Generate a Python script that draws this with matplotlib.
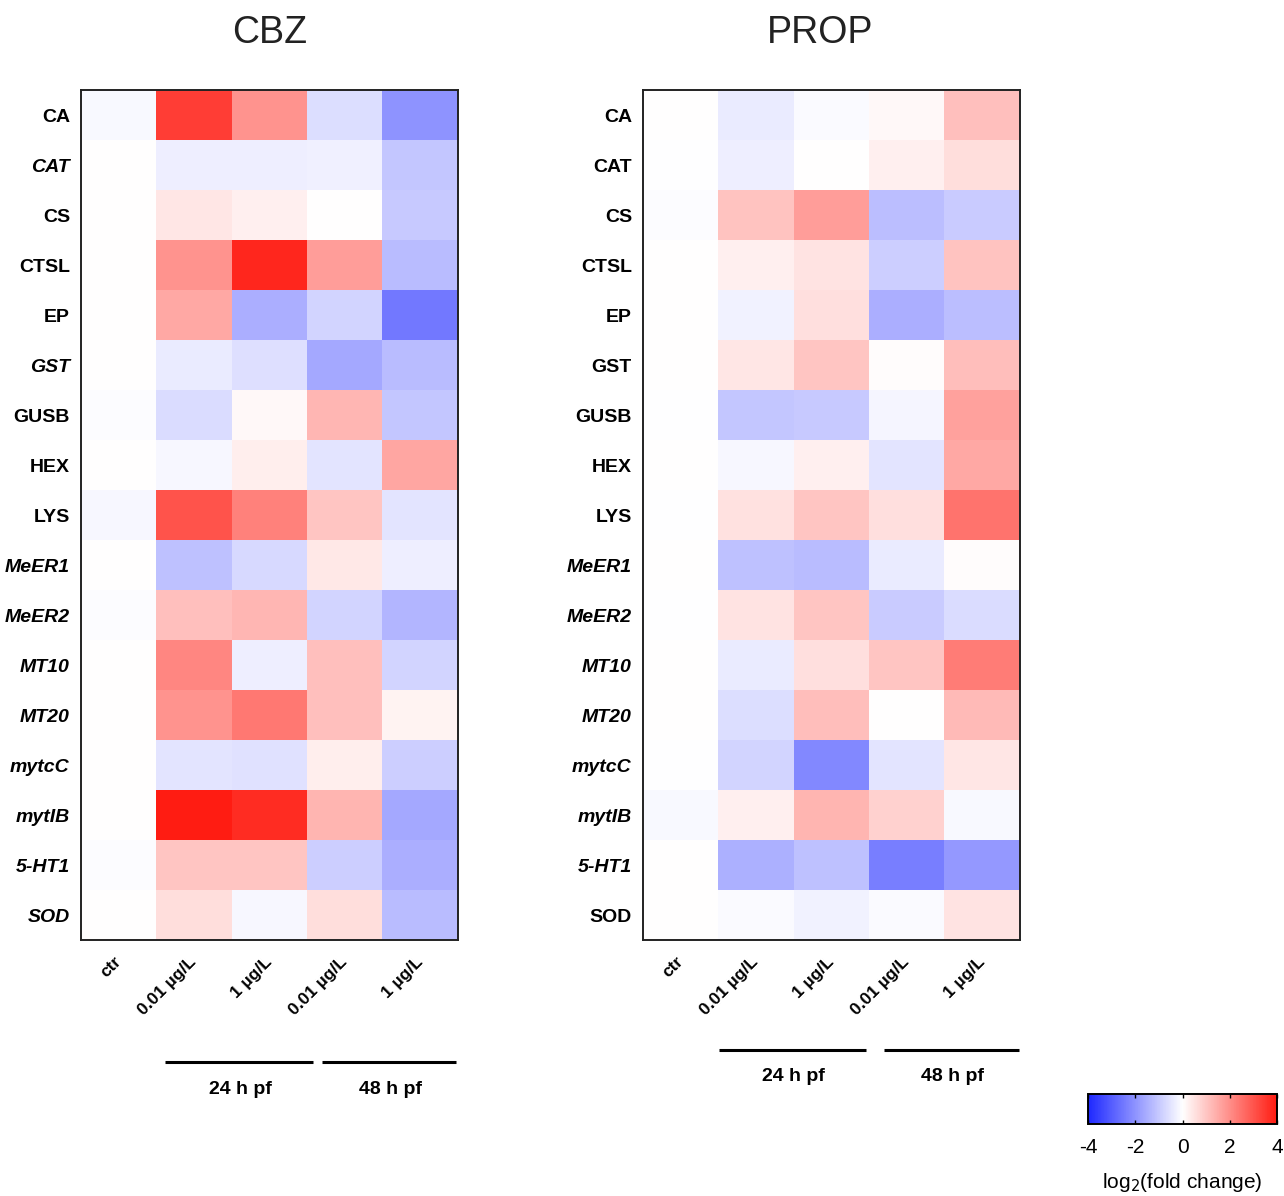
import numpy as np
import matplotlib
matplotlib.use("Agg")
import matplotlib.pyplot as plt
from matplotlib.colors import LinearSegmentedColormap

# data: log2(fold change), rows = genes, cols = ctr, 24h 0.01, 24h 1, 48h 0.01, 48h 1
genes = ["CA", "CAT", "CS", "CTSL", "EP", "GST", "GUSB", "HEX", "LYS",
         "MeER1", "MeER2", "MT10", "MT20", "mytcC", "mytIB", "5-HT1", "SOD"]
conditions = ["ctr", "0.01 µg/L", "1 µg/L", "0.01 µg/L", "1 µg/L"]
groups = ["24 h pf", "48 h pf"]

cbz = [
    [-0.10, 3.40, 1.90, -0.60, -2.00],
    [0.00, -0.30, -0.30, -0.28, -1.05],
    [0.00, 0.42, 0.27, 0.00, -1.00],
    [0.00, 1.90, 3.80, 1.70, -1.25],
    [0.00, 1.50, -1.50, -0.80, -2.50],
    [0.00, -0.35, -0.58, -1.60, -1.25],
    [-0.05, -0.65, 0.10, 1.25, -1.05],
    [0.00, -0.15, 0.30, -0.50, 1.55],
    [-0.15, 3.00, 2.20, 1.00, -0.50],
    [0.00, -1.15, -0.70, 0.40, -0.30],
    [-0.05, 1.10, 1.25, -0.80, -1.35],
    [0.00, 2.10, -0.30, 1.10, -0.80],
    [0.00, 1.90, 2.35, 1.10, 0.20],
    [0.00, -0.50, -0.55, 0.30, -0.90],
    [0.00, 4.00, 3.70, 1.30, -1.60],
    [-0.05, 1.00, 1.00, -0.90, -1.50],
    [0.00, 0.58, -0.15, 0.58, -1.25],
]
prop = [
    [0.00, -0.35, -0.08, 0.10, 1.10],
    [-0.03, -0.30, 0.00, 0.27, 0.58],
    [-0.05, 1.05, 1.70, -1.20, -0.95],
    [0.00, 0.27, 0.47, -0.90, 1.05],
    [0.00, -0.22, 0.55, -1.50, -1.20],
    [0.00, 0.42, 1.00, 0.05, 1.15],
    [-0.03, -1.05, -1.00, -0.18, 1.65],
    [0.00, -0.15, 0.27, -0.50, 1.50],
    [-0.03, 0.52, 1.00, 0.55, 2.45],
    [0.00, -1.15, -1.25, -0.35, 0.05],
    [-0.03, 0.47, 1.00, -0.95, -0.65],
    [0.00, -0.35, 0.55, 1.00, 2.30],
    [0.00, -0.60, 1.15, 0.00, 1.20],
    [-0.03, -0.80, -2.20, -0.50, 0.42],
    [-0.10, 0.27, 1.30, 0.80, -0.10],
    [0.00, -1.45, -1.15, -2.40, -1.90],
    [0.00, -0.08, -0.25, -0.08, 0.47],
]

italic_cbz = {"CAT", "GST", "MeER1", "MeER2", "MT10", "MT20", "mytcC", "mytIB", "5-HT1", "SOD"}
italic_prop = {"MeER1", "MeER2", "MT10", "MT20", "mytcC", "mytIB", "5-HT1"}

plt.rcParams["axes.unicode_minus"] = False
cmap = LinearSegmentedColormap.from_list("bwr2", ["#1e28ff", "#ffffff", "#ff1c12"])
label_font = ["Liberation Sans", "DejaVu Sans"]
title_font = ["Liberation Sans Narrow", "Liberation Sans", "DejaVu Sans"]

fig = plt.figure(figsize=(12.84, 11.96), dpi=100)

# title, values, italic labels, left, bracket y, text y, spans, text x, title x (axes frac)
panels = [
    ("CBZ", cbz, italic_cbz, 0.0631, -0.1435, -0.176, (0.62, 2.58), (2.7, 4.48), (1.62, 3.6), 0.5),
    ("PROP", prop, italic_prop, 0.5008, -0.1296, -0.161, (0.51, 2.46), (2.7, 4.49), (1.5, 3.6), 0.47),
]

im = None
for title, vals, italics, left, line_y, text_y, span1, span2, text_x, title_x in panels:
    ax = fig.add_axes([left, 0.2140, 0.2936, 0.7107])
    im = ax.imshow(np.array(vals), cmap=cmap, vmin=-4, vmax=4, aspect="auto",
                   interpolation="nearest")
    ax.set_yticks(range(len(genes)))
    ax.set_yticklabels(genes, fontsize=14, fontweight="bold", family=label_font)
    for lab in ax.get_yticklabels():
        if lab.get_text() in italics:
            lab.set_fontstyle("italic")
    ax.set_xticks(range(len(conditions)))
    ax.set_xticklabels(conditions, rotation=45, ha="right", va="center",
                       rotation_mode="anchor", fontsize=12.5, fontweight="bold",
                       family=label_font)
    ax.tick_params(length=0, pad=8)
    ax.tick_params(axis="x", pad=14)
    for s in ax.spines.values():
        s.set_linewidth(1.4)
        s.set_color("#222222")
    ax.set_title(title, fontsize=27, family=title_font, pad=34, color="#222222",
                 x=title_x)

    # group brackets under the columns
    trans = ax.get_xaxis_transform()
    for (x0, x1), tx, g in zip([span1, span2], text_x, groups):
        ax.plot([x0, x1], [line_y, line_y], color="black", lw=2.2,
                transform=trans, clip_on=False, solid_capstyle="butt")
        ax.text(tx, text_y, g, transform=trans, ha="center", va="center",
                fontsize=14, fontweight="bold", family=label_font)

cax = fig.add_axes([0.8474, 0.0602, 0.1472, 0.0251])
cb = fig.colorbar(im, cax=cax, orientation="horizontal", ticks=[-4, -2, 0, 2, 4])
cax.tick_params(direction="in", top=True, length=3, width=1, labelsize=15, pad=10)
cb.outline.set_linewidth(1.4)
cb.set_label("log$_2$(fold change)", fontsize=15, family=label_font, labelpad=10)
for lab in cax.get_xticklabels():
    lab.set_family(label_font)

fig.savefig("out.png", dpi=100)
